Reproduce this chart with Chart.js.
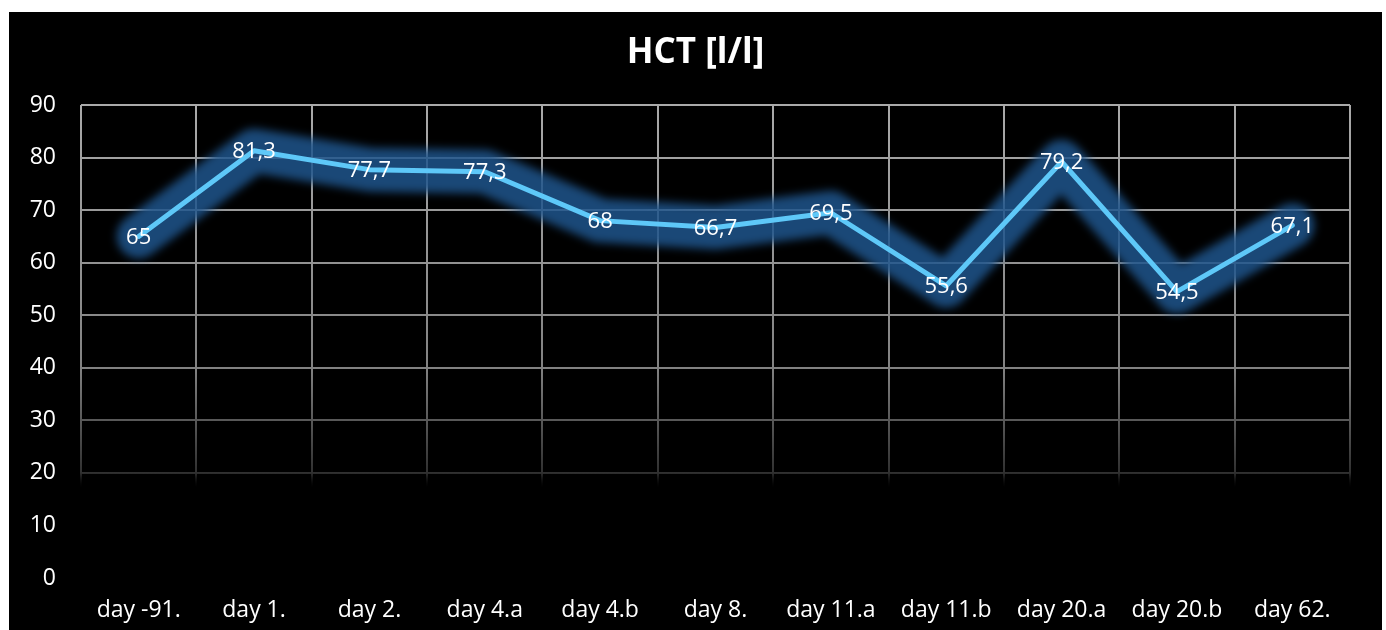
<!DOCTYPE html>
<html>
<head>
<meta charset="utf-8">
<script src="https://cdn.jsdelivr.net/npm/chart.js@4/dist/chart.umd.min.js"></script>
<style>
  html, body { margin: 0; padding: 0; background: #ffffff; }
  #wrap { position: absolute; left: 9px; top: 12px; width: 1373px; height: 618px; background: #000000; }
  canvas { display: block; }
</style>
</head>
<body>
<div id="wrap"><canvas id="c" width="1373" height="618"></canvas></div>
<script>
const categories = ['day -91.', 'day 1.', 'day 2.', 'day 4.a', 'day 4.b', 'day 8.', 'day 11.a', 'day 11.b', 'day 20.a', 'day 20.b', 'day 62.'];
const hctValues = [65, 81.3, 77.7, 77.3, 68, 66.7, 69.5, 55.6, 79.2, 54.5, 67.1];
const yMin = 0, yMax = 90, yStep = 10;
const titleText = 'HCT [l/l]';

const FONT = "'Open Sans', 'DejaVu Sans', sans-serif";

function gridGradient(context) {
  const chart = context.chart;
  const area = chart.chartArea;
  const ys = chart.scales.y;
  if (!area || !ys) return 'rgba(160,160,160,0.9)';
  const ctx = chart.ctx;
  const top = area.top;
  const y40 = ys.getPixelForValue(40);
  const y30 = ys.getPixelForValue(30);
  const y20 = ys.getPixelForValue(20);
  const yEnd = ys.getPixelForValue(17);
  const g = ctx.createLinearGradient(0, top - 2, 0, yEnd);
  const total = yEnd - (top - 2);
  const s = (y) => Math.min(1, Math.max(0, (y - (top - 2)) / total));
  g.addColorStop(0, 'rgb(170,170,170)');
  g.addColorStop(s(y40), 'rgb(130,130,130)');
  g.addColorStop(s(y30), 'rgb(88,88,88)');
  g.addColorStop(s(y20), 'rgb(48,48,48)');
  g.addColorStop(1, 'rgba(0,0,0,0)');
  return g;
}

const glowPlugin = {
  id: 'glow',
  beforeDatasetDraw(chart, args) {
    if (args.index === 0) {
      const ctx = chart.ctx;
      ctx.save();
      ctx.filter = 'blur(4px)';
    }
  },
  afterDatasetDraw(chart, args) {
    if (args.index === 0) chart.ctx.restore();
  }
};

const labelPlugin = {
  id: 'valueLabels',
  afterDatasetsDraw(chart) {
    const ctx = chart.ctx;
    const meta = chart.getDatasetMeta(1);
    const data = chart.data.datasets[1].data;
    ctx.save();
    ctx.font = '22px ' + FONT;
    ctx.fillStyle = '#ffffff';
    ctx.textAlign = 'center';
    ctx.textBaseline = 'middle';
    meta.data.forEach((el, i) => {
      const txt = String(data[i]).replace('.', ',');
      ctx.fillText(txt, el.x, el.y + 1);
    });
    ctx.restore();
  }
};

new Chart(document.getElementById('c'), {
  type: 'line',
  data: {
    labels: categories,
    datasets: [
      {
        data: hctValues,
        order: 2,
        borderColor: 'rgba(30,85,140,0.85)',
        borderWidth: 44,
        borderCapStyle: 'round',
        borderJoinStyle: 'round',
        pointRadius: 0,
        fill: false,
        tension: 0
      },
      {
        data: hctValues,
        order: 1,
        borderColor: '#5ec8f8',
        borderWidth: 5,
        borderCapStyle: 'round',
        borderJoinStyle: 'round',
        pointRadius: 0,
        fill: false,
        tension: 0
      }
    ]
  },
  options: {
    responsive: false,
    animation: false,
    events: [],
    layout: { padding: 0 },
    plugins: {
      legend: { display: false },
      tooltip: { enabled: false },
      title: {
        display: true,
        text: titleText,
        color: '#ffffff',
        font: { family: FONT, size: 35, weight: 'bold' },
        padding: { top: 20, bottom: 31 }
      }
    },
    scales: {
      x: {
        offset: true,
        grid: { offset: true, color: gridGradient, lineWidth: 2, drawTicks: false },
        border: { display: false },
        ticks: { color: '#ffffff', font: { family: FONT, size: 23 }, padding: 19, maxRotation: 0, autoSkip: false },
        afterFit(scale) { scale.height = 52; }
      },
      y: {
        min: yMin,
        max: yMax,
        ticks: { stepSize: yStep, color: '#ffffff', font: { family: FONT, size: 23 }, padding: 25 },
        grid: { color: gridGradient, lineWidth: 2, drawTicks: false },
        border: { display: false },
        afterFit(scale) { scale.width = 72; }
      },
      yRight: {
        position: 'right',
        display: true,
        min: yMin,
        max: yMax,
        ticks: { display: false },
        grid: { display: false, drawTicks: false },
        border: { display: false },
        afterFit(scale) { scale.width = 32; }
      }
    }
  },
  plugins: [glowPlugin, labelPlugin]
});
</script>
</body>
</html>
